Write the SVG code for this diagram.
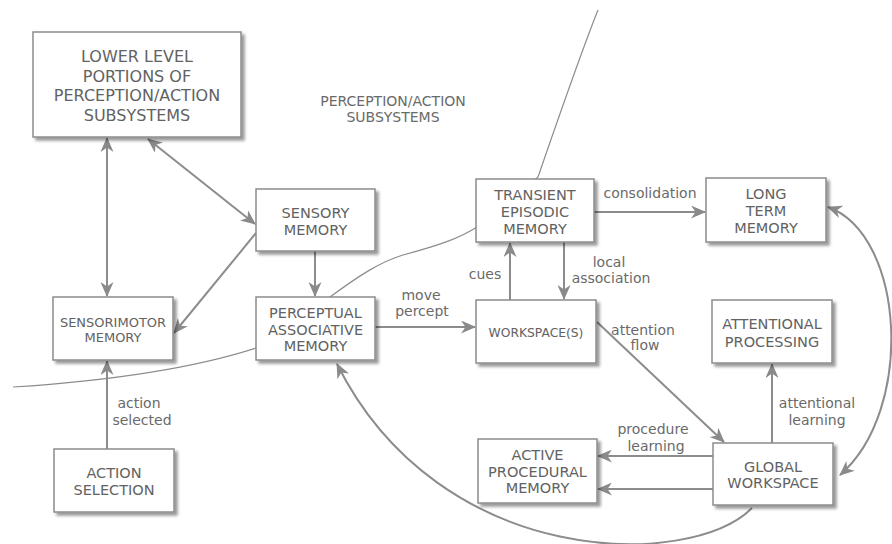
<svg xmlns="http://www.w3.org/2000/svg" width="892" height="544" viewBox="0 0 892 544">
<defs>
<style>
.box{fill:#fff;stroke:#8c8c8c;stroke-width:1.5;filter:url(#sh)}
.nt{font-family:"DejaVu Sans","Liberation Sans",sans-serif;font-size:14.5px;fill:#626262;text-anchor:middle}
.lb{font-family:"DejaVu Sans","Liberation Sans",sans-serif;font-size:14px;fill:#6a6a6a;text-anchor:middle}
.c{fill:none;stroke:#8c8c8c;stroke-width:2}
.a{marker-end:url(#ah)}
.b{marker-start:url(#ah);marker-end:url(#ah)}
.bd{fill:none;stroke:#8c8c8c;stroke-width:1.2}
</style>
<filter id="sh" x="-10%" y="-10%" width="125%" height="130%">
<feDropShadow dx="3" dy="3" stdDeviation="1.5" flood-color="#000" flood-opacity="0.4"/>
</filter>
<marker id="ah" viewBox="0 0 15 13" refX="14" refY="6.5" markerWidth="15" markerHeight="13" markerUnits="userSpaceOnUse" orient="auto-start-reverse">
<path d="M0,0 L15,6.5 L0,13 L4.5,6.5 Z" fill="#8a8a8a"/>
</marker>
</defs>
<rect width="892" height="544" fill="#fff"/>

<g id="boundary">
<path class="bd" d="M13,387 C 120,380 200,366 256,348 L 330,297 C 360,275 380,262 403,255 C 440,245 460,238 477,227 L 538,177 C 556,125 580,55 598,10"/>
</g>

<g id="connectors">
<line class="c b" x1="107" y1="138" x2="107" y2="296"/>
<line class="c b" x1="148" y1="139" x2="255" y2="224"/>
<line class="c a" x1="256" y1="233" x2="174" y2="333"/>
<line class="c a" x1="315" y1="251" x2="315" y2="296"/>
<line class="c a" x1="375" y1="327" x2="475" y2="327"/>
<line class="c a" x1="510" y1="300" x2="510" y2="243"/>
<line class="c a" x1="564" y1="242" x2="564" y2="299"/>
<line class="c a" x1="594" y1="212" x2="705" y2="212"/>
<line class="c a" x1="597" y1="322" x2="724" y2="442"/>
<line class="c a" x1="772" y1="443" x2="772" y2="364"/>
<line class="c a" x1="713" y1="456" x2="598" y2="456"/>
<line class="c a" x1="713" y1="489" x2="598" y2="489"/>
<line class="c a" x1="107" y1="449" x2="107" y2="361"/>
<path class="c a" d="M752,508 C 690,570 440,570 337,364"/>
<path class="c b" d="M828,207 C 905,235 915,410 840,475"/>
</g>

<g id="labels">
<text class="lb"><tspan x="393" y="105.5">PERCEPTION/ACTION</tspan><tspan x="393" y="122">SUBSYSTEMS</tspan></text>
<text class="lb"><tspan x="421" y="300">move</tspan><tspan x="422" y="316">percept</tspan></text>
<text class="lb" x="485" y="279">cues</text>
<text class="lb"><tspan x="609" y="266.5">local</tspan><tspan x="611" y="283">association</tspan></text>
<text class="lb" x="650" y="198">consolidation</text>
<text class="lb"><tspan x="643" y="335">attention</tspan><tspan x="645" y="350">flow</tspan></text>
<text class="lb"><tspan x="817" y="408">attentional</tspan><tspan x="817" y="424.5">learning</tspan></text>
<text class="lb"><tspan x="653" y="434">procedure</tspan><tspan x="656" y="451">learning</tspan></text>
<text class="lb"><tspan x="139" y="408">action</tspan><tspan x="142" y="425">selected</tspan></text>
</g>

<g id="lower-level">
<rect class="box" x="33" y="32" width="208" height="105"/>
<text class="nt" style="font-size:16px"><tspan x="137" y="62">LOWER LEVEL</tspan><tspan x="137" y="81.5">PORTIONS OF</tspan><tspan x="137" y="101">PERCEPTION/ACTION</tspan><tspan x="137" y="120.5">SUBSYSTEMS</tspan></text>
</g>
<g id="sensory-memory">
<rect class="box" x="256" y="189" width="119" height="62"/>
<text class="nt"><tspan x="315.5" y="218">SENSORY</tspan><tspan x="315.5" y="234.5">MEMORY</tspan></text>
</g>
<g id="sensorimotor-memory">
<rect class="box" x="53" y="297" width="120" height="63"/>
<text class="nt" style="font-size:13px"><tspan x="113" y="326.5">SENSORIMOTOR</tspan><tspan x="113" y="341.5">MEMORY</tspan></text>
</g>
<g id="perceptual-associative-memory">
<rect class="box" x="256" y="297" width="119" height="63"/>
<text class="nt"><tspan x="315.5" y="317.5">PERCEPTUAL</tspan><tspan x="315.5" y="334.5">ASSOCIATIVE</tspan><tspan x="315.5" y="351">MEMORY</tspan></text>
</g>
<g id="transient-episodic-memory">
<rect class="box" x="476" y="179" width="118" height="63"/>
<text class="nt"><tspan x="535" y="200">TRANSIENT</tspan><tspan x="535" y="217">EPISODIC</tspan><tspan x="535" y="234">MEMORY</tspan></text>
</g>
<g id="workspaces">
<rect class="box" x="476" y="300" width="120" height="63"/>
<text class="nt" style="font-size:12.3px" x="536" y="337">WORKSPACE(S)</text>
</g>
<g id="long-term-memory">
<rect class="box" x="706" y="178" width="120" height="64"/>
<text class="nt"><tspan x="766" y="199">LONG</tspan><tspan x="766" y="216">TERM</tspan><tspan x="766" y="233">MEMORY</tspan></text>
</g>
<g id="attentional-processing">
<rect class="box" x="712" y="300" width="120" height="63"/>
<text class="nt"><tspan x="772" y="329">ATTENTIONAL</tspan><tspan x="772" y="346.5">PROCESSING</tspan></text>
</g>
<g id="active-procedural-memory">
<rect class="box" x="478" y="439" width="119" height="64"/>
<text class="nt"><tspan x="537.5" y="460">ACTIVE</tspan><tspan x="537.5" y="476.5">PROCEDURAL</tspan><tspan x="537.5" y="493">MEMORY</tspan></text>
</g>
<g id="global-workspace">
<rect class="box" x="713" y="443" width="120" height="62"/>
<text class="nt"><tspan x="773" y="471.5">GLOBAL</tspan><tspan x="773" y="488">WORKSPACE</tspan></text>
</g>
<g id="action-selection">
<rect class="box" x="54" y="449" width="120" height="63"/>
<text class="nt"><tspan x="114" y="477.5">ACTION</tspan><tspan x="114" y="495">SELECTION</tspan></text>
</g>
</svg>
